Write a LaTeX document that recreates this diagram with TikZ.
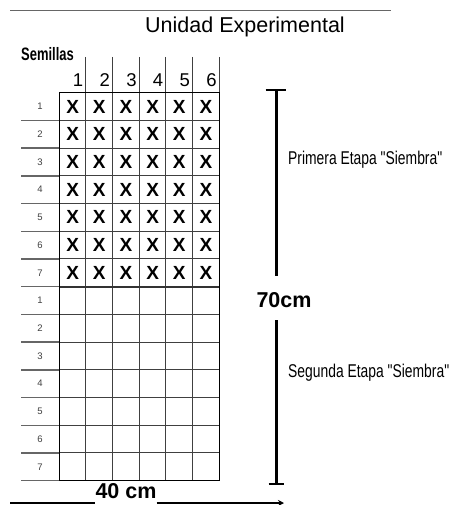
\documentclass[tikz,border=0pt]{standalone}
\usepackage{fontspec}
\setmainfont{Liberation Sans}
\newfontfamily\narrowfont[FakeStretch=0.75]{Liberation Sans}
\newfontfamily\narrowbold[FakeStretch=0.72]{Liberation Sans Bold}
\usetikzlibrary{arrows.meta}
\begin{document}
\begin{tikzpicture}[x=1pt,y=-1pt,
  gridline/.style={line width=1pt,draw=black!75},
  rowline/.style={line width=1.4pt,draw=black!60},
  dimline/.style={line width=2.6pt,draw=black},
  xmark/.style={font=\bfseries\fontsize{19}{19}\selectfont,inner sep=0pt},
  colnum/.style={font=\fontsize{18.5}{18.5}\selectfont,inner sep=0pt,anchor=east},
  rownum/.style={font=\fontsize{9.5}{10}\selectfont,text=black!75,inner sep=0pt},
  stage/.style={font=\narrowfont\fontsize{18.5}{18.5}\selectfont,inner sep=0pt,anchor=west},
  bigbold/.style={font=\bfseries\fontsize{21.5}{21.5}\selectfont,inner sep=0pt}]
\useasboundingbox (0,0) rectangle (453,505);
\fill[white] (0,0) rectangle (453,505);
% top rule
\coordinate (ruleL) at (10,10);
\coordinate (ruleR) at (391,10);
\draw[line width=0.6pt,black!60] (ruleL) -- (ruleR);
\node[font=\fontsize{21.5}{21.5}\selectfont,inner sep=0pt] (title) at (245,27) {Unidad Experimental};
\node[font=\narrowbold\fontsize{18}{18}\selectfont,inner sep=0pt,anchor=west] (sem) at (21,54) {Semillas};
% grid
\def\xo{59.3}\def\cw{26.67}\def\yo{92.7}\def\rh{27.714}
\foreach \i in {1,...,6}{
  \draw[gridline] ({\xo+\i*\cw},57) -- ({\xo+\i*\cw},480.7);
  \node[colnum] (c\i) at ({\xo+\i*\cw-2.5},80) {\i};
}
\foreach \j in {1,...,13}{
  \draw[gridline] (\xo,{\yo+\j*\rh}) -- ({\xo+6*\cw},{\yo+\j*\rh});
}
\draw[line width=2pt,black!80] (\xo,{\yo+7*\rh}) -- ({\xo+6*\cw},{\yo+7*\rh});
\draw[line width=1.3pt,black] (\xo,\yo) rectangle ({\xo+6*\cw},480.7);
% row labels
\foreach \s in {0,1}{
  \foreach \r in {1,...,7}{
    \pgfmathsetmacro\yy{\yo+(\s*7+\r)*\rh}
    \draw[rowline] (21,\yy) -- (\xo,\yy);
    \node[rownum] (r\s\r) at (40,{\yy-\rh/2}) {\r};
  }
}
% X marks
\foreach \r in {1,...,7}{
  \foreach \c in {1,...,6}{
    \node[xmark] (x\r\c) at ({\xo+(\c-0.5)*\cw},{\yo+(\r-0.5)*\rh}) {X};
  }
}
% vertical dimension
\coordinate (vt) at (276.5,90);
\coordinate (vm1) at (276.5,276);
\node[bigbold] (seventy) at (284,300) {70cm};
\coordinate (vm2) at (276.5,320);
\coordinate (vb) at (276.5,484);
\draw[dimline] (vt) -- (vm1);
\draw[dimline] (vm2) -- (vb);
\draw[line width=2.4pt] ([xshift=-11pt]vt) -- ([xshift=9pt]vt);
\draw[line width=2pt] ([xshift=-8pt]vb) -- ([xshift=7pt]vb);
\node[stage] (prim) at (288,160) {Primera Etapa "Siembra"};
\node[stage] (seg) at (288,373) {Segunda Etapa "Siembra"};
% horizontal dimension
\node[bigbold] (forty) at (126,491) {40 cm};
\coordinate (hl) at (10,503);
\coordinate (hr) at (284,503);
\draw[line width=1.6pt] (hl) -- (forty.south west |- hl);
\draw[line width=1.6pt,-{Stealth[length=6pt,width=6pt]}] (forty.south east |- hl) -- (hr);
\end{tikzpicture}
\end{document}
